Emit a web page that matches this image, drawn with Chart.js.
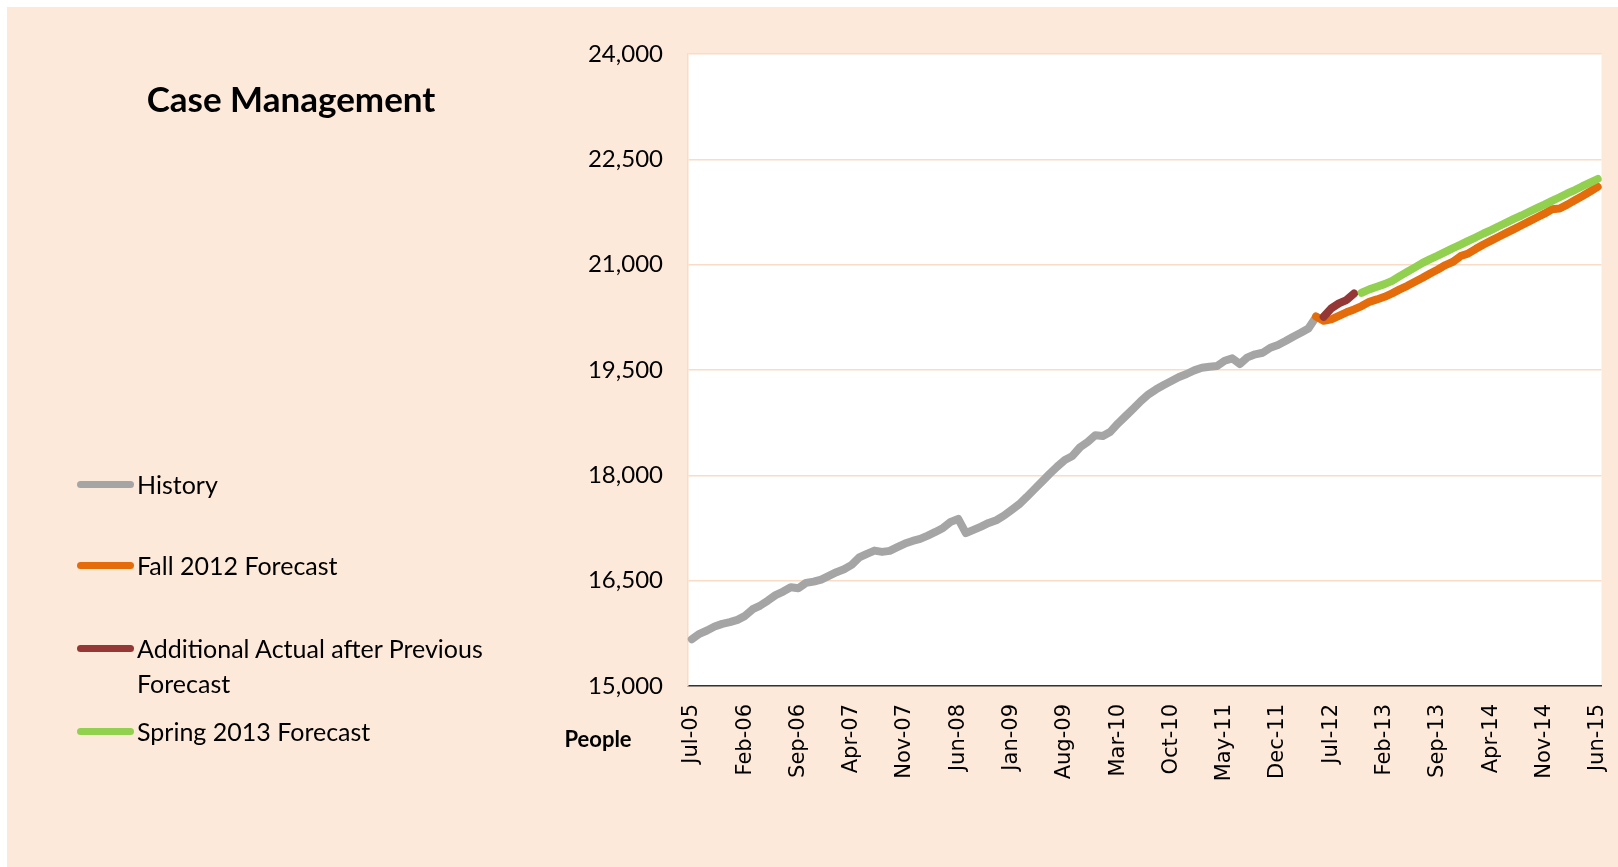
<!DOCTYPE html>
<html>
<head>
<meta charset="utf-8">
<script src="https://cdn.jsdelivr.net/npm/chart.js@4.4.1/dist/chart.umd.min.js"></script>
<style>
  html, body { margin: 0; padding: 0; background: #fff; }
  #page { position: relative; width: 1618px; height: 867px; overflow: hidden; }
  #bg { position: absolute; left: 7px; top: 7px; right: 0; bottom: 0; background: #FDE9D9; }
  #chartTitle { position: absolute; left: 291px; top: 98px; transform: translate(-50%, -50%);
    font: bold 35px Lato, sans-serif; color: #000; white-space: nowrap; }
  #yTitle { position: absolute; left: 598px; top: 738px; transform: translate(-50%, -50%);
    font: bold 22px Lato, sans-serif; color: #000; }
  .leg { position: absolute; left: 137px; width: 420px; font: 25px Lato, sans-serif; line-height: 35px; color: #000; }
  .leg .swatch { position: absolute; left: -60px; top: 14px; width: 57px; height: 7px; border-radius: 4px; }
  canvas { position: absolute; left: 0; top: 0; }
</style>
</head>
<body>
<div id="page">
  <div id="bg"></div>
  <canvas id="chartCase" width="1618" height="867"></canvas>
  <div id="chartTitle">Case Management</div>
  <div id="legend"></div>
  <div id="yTitle">People</div>
</div>
<script>
// Categorias (meses)
const categories = [
  'Jul-05','Aug-05','Sep-05','Oct-05','Nov-05','Dec-05',
  'Jan-06','Feb-06','Mar-06','Apr-06','May-06','Jun-06','Jul-06','Aug-06','Sep-06','Oct-06','Nov-06','Dec-06',
  'Jan-07','Feb-07','Mar-07','Apr-07','May-07','Jun-07','Jul-07','Aug-07','Sep-07','Oct-07','Nov-07','Dec-07',
  'Jan-08','Feb-08','Mar-08','Apr-08','May-08','Jun-08','Jul-08','Aug-08','Sep-08','Oct-08','Nov-08','Dec-08',
  'Jan-09','Feb-09','Mar-09','Apr-09','May-09','Jun-09','Jul-09','Aug-09','Sep-09','Oct-09','Nov-09','Dec-09',
  'Jan-10','Feb-10','Mar-10','Apr-10','May-10','Jun-10','Jul-10','Aug-10','Sep-10','Oct-10','Nov-10','Dec-10',
  'Jan-11','Feb-11','Mar-11','Apr-11','May-11','Jun-11','Jul-11','Aug-11','Sep-11','Oct-11','Nov-11','Dec-11',
  'Jan-12','Feb-12','Mar-12','Apr-12','May-12','Jun-12','Jul-12','Aug-12','Sep-12','Oct-12','Nov-12','Dec-12',
  'Jan-13','Feb-13','Mar-13','Apr-13','May-13','Jun-13','Jul-13','Aug-13','Sep-13','Oct-13','Nov-13','Dec-13',
  'Jan-14','Feb-14','Mar-14','Apr-14','May-14','Jun-14','Jul-14','Aug-14','Sep-14','Oct-14','Nov-14','Dec-14',
  'Jan-15','Feb-15','Mar-15','Apr-15','May-15','Jun-15'
];

// Etiquetas visibles del eje x
const tickLabels = ['Jul-05','Feb-06','Sep-06','Apr-07','Nov-07','Jun-08','Jan-09','Aug-09','Mar-10',
  'Oct-10','May-11','Dec-11','Jul-12','Feb-13','Sep-13','Apr-14','Nov-14','Jun-15'];

// History: Jul-05 .. May-12
const historyValues = [
  15667, 15743, 15790, 15847, 15885, 15909, 15942, 15999, 16094, 16146,
  16217, 16294, 16345, 16407, 16393, 16468, 16487, 16515, 16568, 16621,
  16663, 16725, 16830, 16881, 16928, 16910, 16924, 16977, 17028, 17066,
  17095, 17142, 17194, 17251, 17337, 17379, 17176, 17223, 17270, 17322,
  17361, 17426, 17507, 17588, 17692, 17802, 17910, 18020, 18124, 18219,
  18276, 18400, 18475, 18570, 18560, 18622, 18741, 18845, 18950, 19058,
  19154, 19225, 19286, 19343, 19400, 19443, 19495, 19532, 19546, 19557,
  19632, 19666, 19585, 19680, 19723, 19746, 19817, 19855, 19912, 19973,
  20030, 20092, 20255
];

// Fall 2012 Forecast: May-12 .. Jun-15
const fallStart = 'May-12';
const fallValues = [
  20262, 20201, 20221, 20272, 20321, 20363, 20410, 20471, 20505, 20542,
  20591, 20648, 20699, 20756, 20813, 20875, 20932, 20994, 21041, 21122,
  21160, 21226, 21288, 21343, 21398, 21452, 21507, 21562, 21616, 21671,
  21726, 21790, 21800, 21855, 21918, 21978, 22042, 22108
];

// Additional Actual after Previous Forecast: Jun-12 .. Oct-12
const additionalStart = 'Jun-12';
const additionalValues = [20258, 20378, 20449, 20496, 20591];

// Spring 2013 Forecast: Nov-12 .. Jun-15
const springStart = 'Nov-12';
const springValues = [
  20600, 20648, 20685, 20723, 20770, 20837, 20898, 20961, 21026, 21080,
  21129, 21183, 21236, 21285, 21339, 21390, 21444, 21493, 21547, 21598,
  21651, 21700, 21754, 21806, 21856, 21909, 21960, 22014, 22063, 22117,
  22168, 22220
];

function pad(startLabel, vals) {
  const s = categories.indexOf(startLabel);
  return categories.map((_, i) => (i >= s && i < s + vals.length) ? vals[i - s] : null);
}

// Fondo blanco del area de trazado
const plotBg = {
  id: 'plotBg',
  beforeDraw(chart) {
    const { ctx, chartArea: a } = chart;
    ctx.save();
    ctx.fillStyle = '#ffffff';
    ctx.fillRect(a.left, a.top, a.right - a.left, a.bottom - a.top);
    ctx.restore();
  }
};

const lineStyle = {
  borderWidth: 8,
  pointRadius: 0,
  tension: 0,
  borderCapStyle: 'round',
  borderJoinStyle: 'round',
  fill: false,
  spanGaps: false
};

// fuente por defecto (eje x)
Chart.defaults.font.family = 'DejaVu Sans';
Chart.defaults.color = '#000';

const ctx = document.getElementById('chartCase').getContext('2d');

const chartCase = new Chart(ctx, {
  type: 'line',
  data: {
    labels: categories,
    datasets: [
      { label: 'History', data: historyValues, borderColor: '#A5A5A5', order: 4, ...lineStyle },
      { label: 'Fall 2012 Forecast', data: pad(fallStart, fallValues), borderColor: '#E46C0A', order: 3, ...lineStyle },
      { label: 'Additional Actual after Previous Forecast', data: pad(additionalStart, additionalValues), borderColor: '#953735', order: 2, ...lineStyle },
      { label: 'Spring 2013 Forecast', data: pad(springStart, springValues), borderColor: '#92D050', order: 1, ...lineStyle }
    ]
  },
  options: {
    responsive: false,
    animation: false,
    layout: { padding: { left: 0, top: 54, right: 16.5, bottom: 0 } },
    plugins: {
      legend: { display: false },
      title: { display: false },
      tooltip: { enabled: false }
    },
    scales: {
      x: {
        type: 'category',
        offset: true,
        grid: { display: false, drawTicks: false },
        border: { display: true, color: '#333333', width: 1.5 },
        ticks: {
          autoSkip: false,
          maxRotation: 90,
          minRotation: 90,
          padding: 18,
          color: '#000',
          font: { family: 'DejaVu Sans', size: 21 },
          callback: function (value, index) {
            const lab = categories[index];
            return tickLabels.includes(lab) ? lab : '';
          }
        },
        afterFit: function (scale) {
          scale.height = 181;
          scale.paddingLeft = 0;
          scale.paddingRight = 0;
        }
      },
      y: {
        min: 15000,
        max: 24000,
        grid: { color: '#FADCC6', lineWidth: 1.5, drawTicks: false },
        border: { display: true, color: '#FADCC6', width: 1.5 },
        ticks: {
          stepSize: 1500,
          padding: 25,
          color: '#000',
          font: { family: 'Lato', size: 24 }
        },
        afterFit: function (scale) { scale.width = 688; }
      }
    }
  },
  plugins: [plotBg]
});

// Leyenda HTML a la izquierda
const legendTops = [484, 565, 648, 731];
const legendBox = document.getElementById('legend');
chartCase.data.datasets.forEach(function (ds, i) {
  const item = document.createElement('div');
  item.className = 'leg';
  item.style.top = (legendTops[i] - 17.5) + 'px';
  const sw = document.createElement('span');
  sw.className = 'swatch';
  sw.style.background = ds.borderColor;
  item.appendChild(sw);
  item.appendChild(document.createTextNode(ds.label));
  legendBox.appendChild(item);
});
</script>
</body>
</html>
